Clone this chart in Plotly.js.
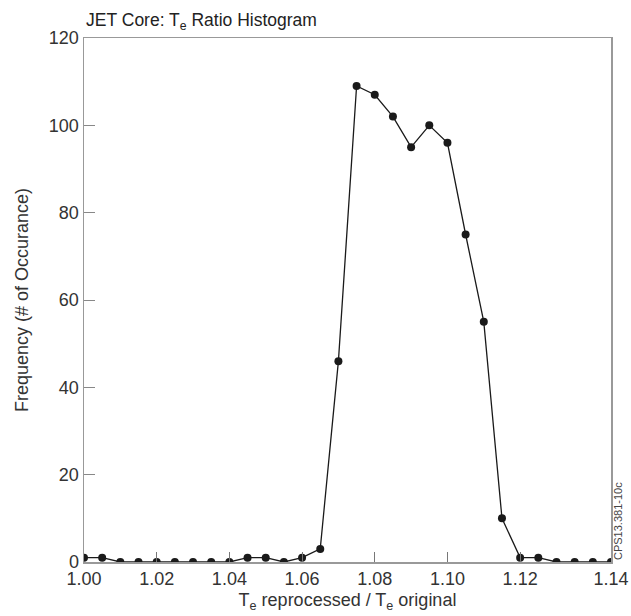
<!DOCTYPE html>
<html><head><meta charset="utf-8">
<script src="https://cdn.plot.ly/plotly-3.0.1.min.js"></script>
<style>html,body{margin:0;padding:0;background:#fff}#chart{width:631px;height:616px}</style>
</head><body><div id="chart"></div>
<script>
const ratio = [1.000,1.005,1.010,1.015,1.020,1.025,1.030,1.035,1.040,1.045,1.050,1.055,1.060,1.065,1.070,1.075,1.080,1.085,1.090,1.095,1.100,1.105,1.110,1.115,1.120,1.125,1.130,1.135,1.140,1.145];
const frequency = [1,1,0,0,0,0,0,0,0,1,1,0,1,3,46,109,107,102,95,100,96,75,55,10,1,1,0,0,0,0];
const xTickVals = [1.00,1.02,1.04,1.06,1.08,1.10,1.12,1.145];
const xTickText = ["1.00","1.02","1.04","1.06","1.08","1.10","1.12","1.14"];
const yTickVals = [0,20,40,60,80,100,120];

const font = "Liberation Sans, Arial, Helvetica, sans-serif";
const trace = {
  x: ratio, y: frequency, type: 'scatter', mode: 'lines+markers',
  line: {color: '#1a1a1a', width: 1.3},
  marker: {color: '#1a1a1a', size: 8},
  hoverinfo: 'skip', showlegend: false
};
const layout = {
  width: 631, height: 616,
  margin: {l: 84, r: 20, t: 38, b: 54},
  paper_bgcolor: '#fff', plot_bgcolor: '#fff',
  font: {family: font, size: 18, color: '#333'},
  title: {text: 'JET Core: T<sub>e</sub> Ratio Histogram', font: {family: font, size: 17.5, color: '#222'},
          xref: 'paper', x: 0.004, xanchor: 'left', yref: 'container', y: 1 - 20/616, yanchor: 'middle'},
  xaxis: {
    range: [1.0, 1.145], tickvals: xTickVals, ticktext: xTickText,
    showgrid: false, zeroline: false,
    showline: true, linecolor: '#999', linewidth: 1.5, mirror: true,
    ticks: 'inside', ticklen: 10, tickcolor: '#777', tickwidth: 1,
    tickfont: {family: font, size: 18, color: '#333'},
    title: {text: 'T<sub>e</sub> reprocessed / T<sub>e</sub> original', font: {family: font, size: 18, color: '#333'}, standoff: 5}
  },
  yaxis: {
    range: [0, 120], tickvals: yTickVals,
    showgrid: false, zeroline: false,
    showline: true, linecolor: '#999', linewidth: 1.5, mirror: true,
    ticks: 'inside', ticklen: 11, tickcolor: '#888', tickwidth: 1,
    tickfont: {family: font, size: 18, color: '#333'},
    title: {text: 'Frequency (# of Occurance)', font: {family: font, size: 18, color: '#333'}, standoff: 15}
  },
  annotations: [{
    text: 'CPS13.381-10c', xref: 'paper', yref: 'paper', x: 1, y: 0,
    xanchor: 'left', yanchor: 'bottom', xshift: -1, yshift: 0, textangle: -90, showarrow: false,
    font: {family: font, size: 11, color: '#444'}
  }]
};
Plotly.newPlot('chart', [trace], layout, {staticPlot: true, displayModeBar: false});
</script></body></html>
